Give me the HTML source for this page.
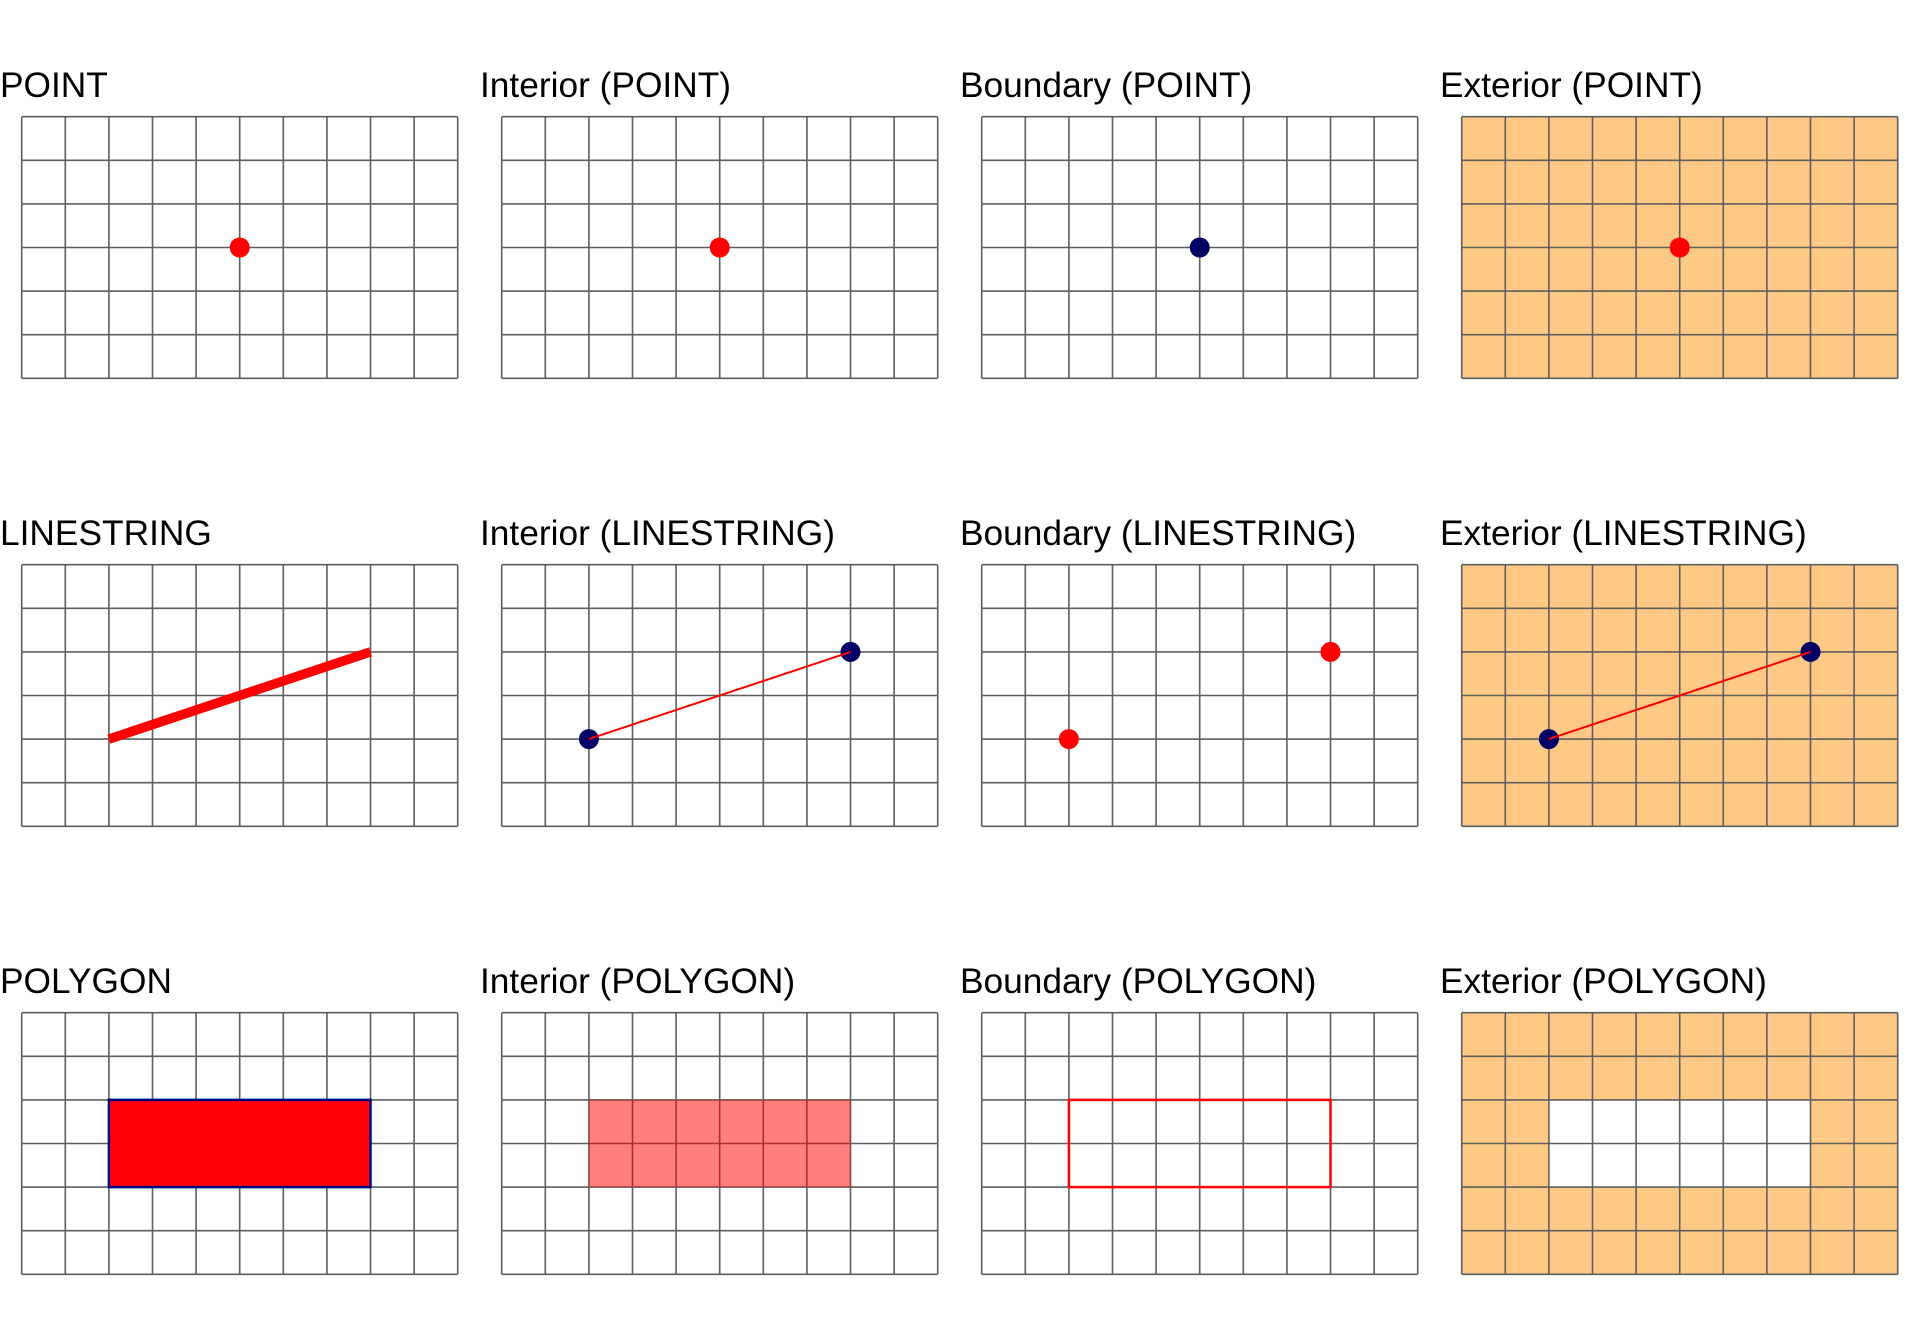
<!DOCTYPE html>
<html><head><meta charset="utf-8"><style>
html,body{margin:0;padding:0;background:#fff;}
svg{display:block;}
text{font-family:"Liberation Sans",Arial,sans-serif;font-size:35.3px;fill:#000;}
</style></head><body>
<svg width="1920" height="1344" viewBox="0 0 1920 1344" xmlns="http://www.w3.org/2000/svg">
<defs>
<g id="grid" stroke="#5e5e5e" stroke-width="1.6" fill="none">
<path d="M0,0V261.6M43.6,0V261.6M87.2,0V261.6M130.8,0V261.6M174.4,0V261.6M218,0V261.6M261.6,0V261.6M305.2,0V261.6M348.8,0V261.6M392.4,0V261.6M436,0V261.6M0,0H436M0,43.6H436M0,87.2H436M0,130.8H436M0,174.4H436M0,218H436M0,261.6H436"/>
</g>
</defs>

<!-- Row 1: POINT -->
<text x="0" y="97">POINT</text>
<text x="480" y="97">Interior (POINT)</text>
<text x="960" y="97">Boundary (POINT)</text>
<text x="1440" y="97">Exterior (POINT)</text>

<g transform="translate(21.7,116.7)">
<use href="#grid"/>
<circle cx="218" cy="130.8" r="10" fill="#ff0000"/>
</g>
<g transform="translate(501.7,116.7)">
<use href="#grid"/>
<circle cx="218" cy="130.8" r="10" fill="#ff0000"/>
</g>
<g transform="translate(981.7,116.7)">
<use href="#grid"/>
<circle cx="218" cy="130.8" r="10" fill="#000066"/>
</g>
<g transform="translate(1461.7,116.7)">
<rect x="0" y="0" width="436" height="261.6" fill="#fec985"/>
<use href="#grid"/>
<circle cx="218" cy="130.8" r="10" fill="#ff0000"/>
</g>

<!-- Row 2: LINESTRING -->
<text x="0" y="545">LINESTRING</text>
<text x="480" y="545">Interior (LINESTRING)</text>
<text x="960" y="545">Boundary (LINESTRING)</text>
<text x="1440" y="545">Exterior (LINESTRING)</text>

<g transform="translate(21.7,564.7)">
<use href="#grid"/>
<line x1="87.2" y1="174.4" x2="348.8" y2="87.2" stroke="#ff0000" stroke-width="9.5"/>
</g>
<g transform="translate(501.7,564.7)">
<use href="#grid"/>
<circle cx="87.2" cy="174.4" r="10" fill="#000066"/>
<circle cx="348.8" cy="87.2" r="10" fill="#000066"/>
<line x1="87.2" y1="174.4" x2="348.8" y2="87.2" stroke="#ff0000" stroke-width="2"/>
</g>
<g transform="translate(981.7,564.7)">
<use href="#grid"/>
<circle cx="87.2" cy="174.4" r="10" fill="#ff0000"/>
<circle cx="348.8" cy="87.2" r="10" fill="#ff0000"/>
</g>
<g transform="translate(1461.7,564.7)">
<rect x="0" y="0" width="436" height="261.6" fill="#fec985"/>
<use href="#grid"/>
<circle cx="87.2" cy="174.4" r="10" fill="#000066"/>
<circle cx="348.8" cy="87.2" r="10" fill="#000066"/>
<line x1="87.2" y1="174.4" x2="348.8" y2="87.2" stroke="#ff0000" stroke-width="2"/>
</g>

<!-- Row 3: POLYGON -->
<text x="0" y="993">POLYGON</text>
<text x="480" y="993">Interior (POLYGON)</text>
<text x="960" y="993">Boundary (POLYGON)</text>
<text x="1440" y="993">Exterior (POLYGON)</text>

<g transform="translate(21.7,1012.7)">
<use href="#grid"/>
<rect x="87.2" y="87.2" width="261.6" height="87.2" fill="#ff0008" stroke="#000080" stroke-width="2.5"/>
</g>
<g transform="translate(501.7,1012.7)">
<use href="#grid"/>
<rect x="87.2" y="87.2" width="261.6" height="87.2" fill="rgba(255,0,0,0.5)"/>
</g>
<g transform="translate(981.7,1012.7)">
<use href="#grid"/>
<rect x="87.2" y="87.2" width="261.6" height="87.2" fill="none" stroke="#ff0000" stroke-width="2.5"/>
</g>
<g transform="translate(1461.7,1012.7)">
<path d="M0,0H436V261.6H0Z M87.2,87.2V174.4H348.8V87.2Z" fill="#fec985" fill-rule="evenodd"/>
<use href="#grid"/>
</g>
</svg>
</body></html>
